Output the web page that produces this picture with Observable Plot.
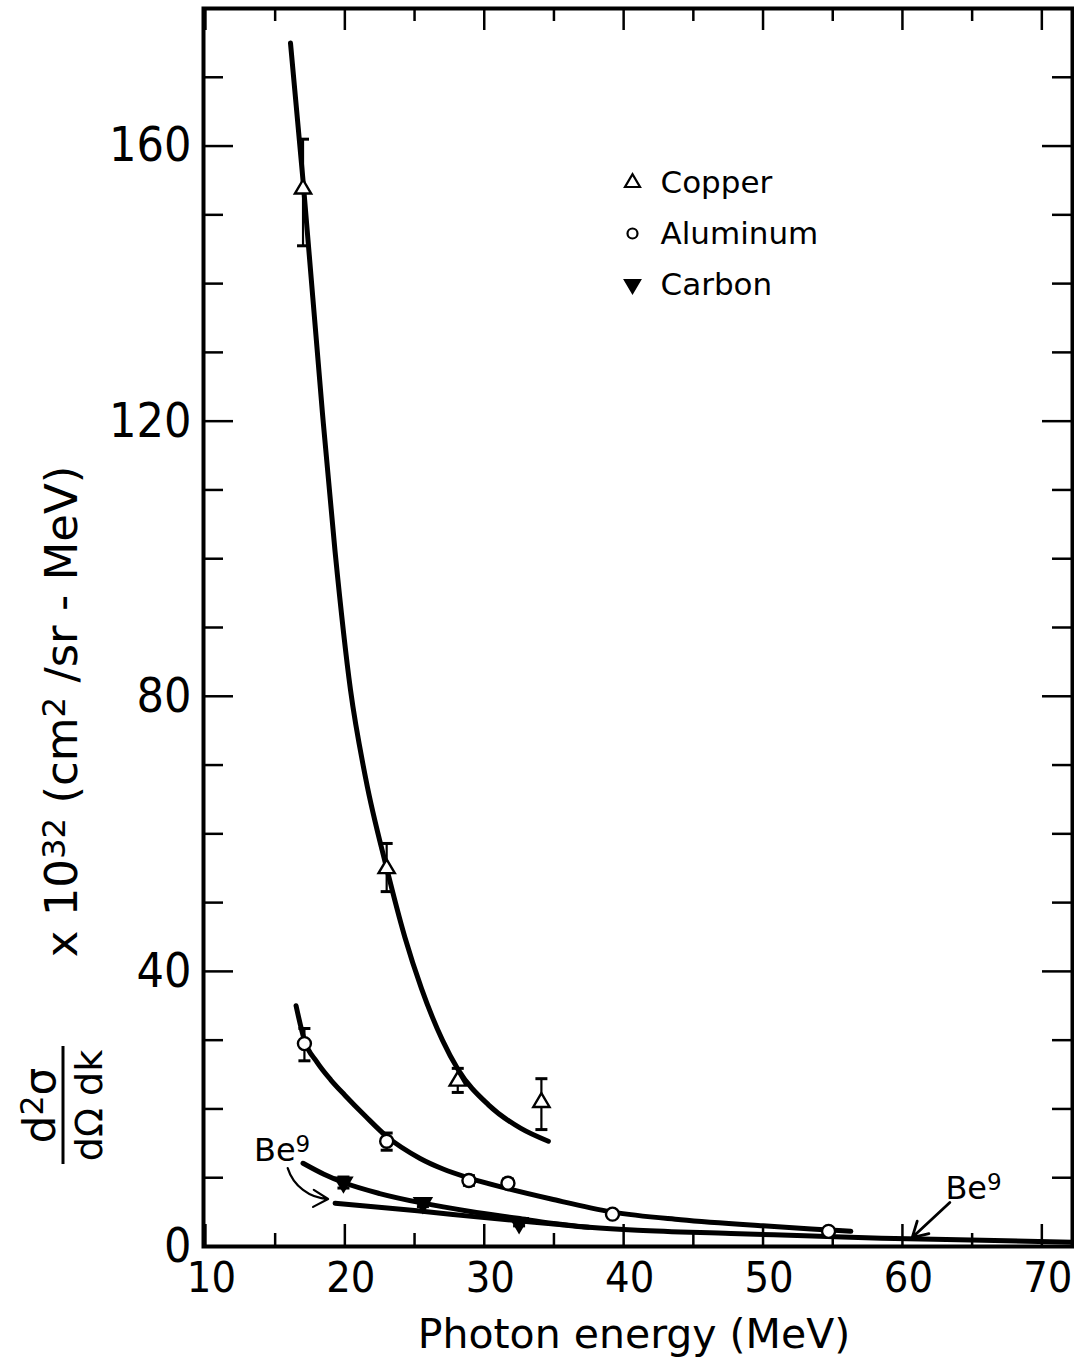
<!DOCTYPE html>
<html><head><meta charset="utf-8">
<script src="https://cdn.jsdelivr.net/npm/d3@7"></script>
<script src="https://cdn.jsdelivr.net/npm/@observablehq/plot@0.6"></script>
<style>body{margin:0;background:#fff}</style>
</head><body><div id="chart"></div>
<script>
// ---- data ----
const xTickLabels = [10, 20, 30, 40, 50, 60, 70];
const xMinorTicks = [15, 25, 35, 45, 55, 65];
const yTickLabels = [0, 40, 80, 120, 160];
const yLongTicks = [40, 80, 120, 160];
const yShortTicks = [10, 20, 30, 50, 60, 70, 90, 100, 110, 130, 140, 150, 170];

// measured points (value, error bar low/high)
const copperX  = [17.0, 23.0, 28.1, 34.1];
const copperY  = [153.8, 55.0, 24.1, 21.0];
const copperLo = [145.5, 51.6, 22.4, 17.0];
const copperHi = [161.0, 58.6, 25.9, 24.4];

const aluminumX  = [17.1, 23.0, 28.9, 31.7, 39.2, 54.7];
const aluminumY  = [29.5, 15.3, 9.6, 9.2, 4.7, 2.2];
const aluminumLo = [27.0, 14.0, 8.9, 8.6, 4.3, 1.9];
const aluminumHi = [31.7, 16.5, 10.3, 9.8, 5.1, 2.5];

const carbonX  = [19.9, 25.6, 32.5];
const carbonY  = [9.3, 6.3, 3.4];
const carbonLo = [8.5, 5.8, 3.0];
const carbonHi = [10.1, 6.8, 3.8];

// hand-drawn fitted curves
const copperCurveX = [16.1, 17.0, 18.4, 19.3, 20.4, 21.5, 23.0, 24.3, 25.5, 27.0, 28.1, 30.3, 32.6, 34.6];
const copperCurveY = [175, 155, 121, 101, 81, 68, 55, 45, 37.5, 30, 25.8, 20.6, 17.2, 15.3];
const aluminumCurveX = [16.5, 17.1, 18.0, 19.0, 20.0, 21.5, 23.0, 25.4, 27.0, 29.0, 31.7, 34.8, 39.2, 44.1, 50.0, 54.7, 56.3];
const aluminumCurveY = [35.0, 30.0, 26.8, 24.2, 22.0, 18.9, 16.0, 12.8, 11.3, 9.9, 8.4, 6.9, 5.0, 3.9, 3.0, 2.4, 2.2];
const carbonCurveX = [17.0, 18.5, 19.9, 22.5, 25.6, 29.0, 32.4, 34.8, 37.5];
const carbonCurveY = [12.1, 10.5, 9.3, 7.7, 6.3, 5.1, 4.1, 3.4, 2.8];
const beCurveX = [19.3, 25.2, 30.0, 34.8, 37.5, 41.0, 47.7, 53.0, 58.5, 64.9, 72.2];
const beCurveY = [6.3, 5.2, 4.2, 3.3, 2.8, 2.35, 1.9, 1.55, 1.2, 0.95, 0.6];

const legendNames = ["Copper", "Aluminum", "Carbon"];
const beLabels = [{x: 15.5, y: 13.9, text: "Be⁹"}, {x: 65.1, y: 8.4, text: "Be⁹"}];
const beArrows = [{x1: 15.9, y1: 11.4, x2: 18.8, y2: 6.9}, {x1: 63.4, y1: 6.4, x2: 60.7, y2: 1.3}];

const xTitle = "Photon energy (MeV)";
const yTitle = "x 10³² (cm² /sr - MeV)";
const yNumer = "d²σ";
const yDenom = "dΩ dk";

// ---- build tables ----
const zip = (X, Y) => X.map((x, i) => ({x, y: Y[i]}));
const pts = (X, Y, L, H) => X.map((x, i) => ({x, y: Y[i], lo: L[i], hi: H[i]}));
const copper = pts(copperX, copperY, copperLo, copperHi);
const aluminum = pts(aluminumX, aluminumY, aluminumLo, aluminumHi);
const carbon = pts(carbonX, carbonY, carbonLo, carbonHi);

// ---- symbols ----
const triDown = {draw(ctx, size) { const r = Math.sqrt(size / Math.PI) * 1.25;
  ctx.moveTo(-r, -r * 0.6); ctx.lineTo(r, -r * 0.6); ctx.lineTo(0, r * 1.1); ctx.closePath(); }};
const triUp = {draw(ctx, size) { const r = Math.sqrt(size / Math.PI) * 1.25;
  ctx.moveTo(-r, r * 0.6); ctx.lineTo(r, r * 0.6); ctx.lineTo(0, -r * 1.1); ctx.closePath(); }};
const cap = {draw(ctx, size) { const r = Math.sqrt(size / Math.PI);
  ctx.moveTo(-r, 0); ctx.lineTo(r, 0); }};

const W = 1074, H = 1357, mL = 203, mR = 2, mT = 8, mB = 111;
const FW = W - mL - mR, FH = H - mT - mB;
const numFont = "'Liberation Sans Narrow', 'DejaVu Sans Condensed', sans-serif";
const txtFont = "'DejaVu Sans', sans-serif";

function errorMarks(data, symbol, fill) {
  return [
    Plot.ruleX(data, {x: "x", y1: "lo", y2: "hi", stroke: "black", strokeWidth: 2.2}),
    Plot.dot(data, {x: "x", y: "lo", symbol: cap, r: 6, stroke: "black", strokeWidth: 3}),
    Plot.dot(data, {x: "x", y: "hi", symbol: cap, r: 6, stroke: "black", strokeWidth: 3}),
    Plot.dot(data, {x: "x", y: "y", symbol, r: 6.5, fill, stroke: "black", strokeWidth: 2.4})
  ];
}

const legendSymbols = [triUp, "circle", triDown];
const legendFills = ["white", "white", "black"];
const legendMarks = legendNames.flatMap((name, i) => [
  Plot.dot([name], {frameAnchor: "top-left", dx: 429, dy: 174 + i * 51, symbol: legendSymbols[i], r: i === 1 ? 5 : 6, fill: legendFills[i], stroke: "black", strokeWidth: 2.2}),
  Plot.text([name], {frameAnchor: "top-left", dx: 457, dy: 175 + i * 51, text: d => d, textAnchor: "start", lineAnchor: "middle", fontSize: 31, fontFamily: txtFont, fill: "black"})
]);

const tick = (data, opts) => Plot.ruleX(data, {x: d => d, strokeWidth: 2.5, ...opts});
const tickY = (data, opts) => Plot.ruleY(data, {y: d => d, strokeWidth: 2.5, ...opts});

const chart = Plot.plot({
  width: W, height: H,
  marginLeft: mL, marginRight: mR, marginTop: mT, marginBottom: mB,
  style: {background: "white", color: "black", fontFamily: numFont},
  x: {domain: [9.86, 72.2]},
  y: {domain: [0, 180]},
  marks: [
    // ticks, inward on all four sides
    tick(xTickLabels, {insetTop: FH - 22}),
    tick(xMinorTicks, {insetTop: FH - 13}),
    tick(xTickLabels, {insetBottom: FH - 22}),
    tick(xMinorTicks, {insetBottom: FH - 13}),
    tickY(yLongTicks, {insetRight: FW - 30}),
    tickY(yShortTicks, {insetRight: FW - 20}),
    tickY(yLongTicks, {insetLeft: FW - 30}),
    tickY(yShortTicks, {insetLeft: FW - 20}),
    Plot.frame({stroke: "black", strokeWidth: 4}),
    Plot.axisX(xTickLabels, {tickSize: 0, tickPadding: 15, dx: 6, fontSize: 43, label: null, fontFamily: numFont}),
    Plot.axisY(yTickLabels, {tickSize: 0, tickPadding: 12, fontSize: 48, label: null, fontFamily: numFont}),
    // curves
    Plot.line(zip(copperCurveX, copperCurveY), {x: "x", y: "y", curve: "monotone-x", stroke: "black", strokeWidth: 5}),
    Plot.line(zip(aluminumCurveX, aluminumCurveY), {x: "x", y: "y", curve: "monotone-x", stroke: "black", strokeWidth: 5}),
    Plot.line(zip(carbonCurveX, carbonCurveY), {x: "x", y: "y", curve: "monotone-x", stroke: "black", strokeWidth: 5}),
    Plot.line(zip(beCurveX, beCurveY), {x: "x", y: "y", curve: "monotone-x", stroke: "black", strokeWidth: 5}),
    // measured points
    ...errorMarks(copper, triUp, "white"),
    ...errorMarks(aluminum, "circle", "white"),
    ...errorMarks(carbon, triDown, "black"),
    // Be9 annotations
    Plot.text(beLabels, {x: "x", y: "y", text: "text", fontSize: 32, fontFamily: txtFont, fill: "black", className: "sup"}),
    Plot.arrow(beArrows.slice(0, 1), {x1: "x1", y1: "y1", x2: "x2", y2: "y2", bend: -35, strokeWidth: 2.2, headLength: 14, stroke: "black"}),
    Plot.arrow(beArrows.slice(1), {x1: "x1", y1: "y1", x2: "x2", y2: "y2", strokeWidth: 2.8, headLength: 16, stroke: "black"}),
    // legend
    ...legendMarks,
    // titles
    Plot.text([xTitle], {frameAnchor: "bottom", dy: 88, dx: -4, lineAnchor: "middle", textAnchor: "middle", text: d => d, fontSize: 41, fontFamily: txtFont, fill: "black"}),
    Plot.text([yTitle], {frameAnchor: "left", dx: -141, dy: 84, rotate: -90, textAnchor: "middle", lineAnchor: "middle", text: d => d, fontSize: 45, fontFamily: txtFont, fill: "black", className: "sup"}),
    Plot.text([yNumer], {frameAnchor: "left", dx: -163, dy: 478, rotate: -90, textAnchor: "middle", lineAnchor: "middle", text: d => d, fontSize: 44, fontFamily: txtFont, fill: "black", className: "sup"}),
    Plot.text([yDenom], {frameAnchor: "left", dx: -114, dy: 478, rotate: -90, textAnchor: "middle", lineAnchor: "middle", text: d => d, fontSize: 38, fontFamily: txtFont, fill: "black"})
  ]
});

// fraction bar of the y title
d3.select(chart).append("line")
  .attr("x1", 63).attr("x2", 63).attr("y1", 1046).attr("y2", 1164)
  .attr("stroke", "black").attr("stroke-width", 3);

// render unicode superscripts as real raised tspans
const supMap = {"⁰": "0", "¹": "1", "²": "2", "³": "3", "⁹": "9"};
d3.select(chart).selectAll(".sup text").each(function () {
  const s = this.textContent;
  const runs = [];
  for (const ch of s) {
    const sup = ch in supMap;
    const c = sup ? supMap[ch] : ch;
    if (runs.length && runs[runs.length - 1].sup === sup) runs[runs.length - 1].t += c;
    else runs.push({sup, t: c});
  }
  const el = d3.select(this);
  el.text(null);
  for (const r of runs) {
    const ts = el.append("tspan").text(r.t);
    if (r.sup) ts.attr("baseline-shift", "38%").attr("font-size", "72%");
  }
});

document.getElementById("chart").appendChild(chart);
</script></body></html>
